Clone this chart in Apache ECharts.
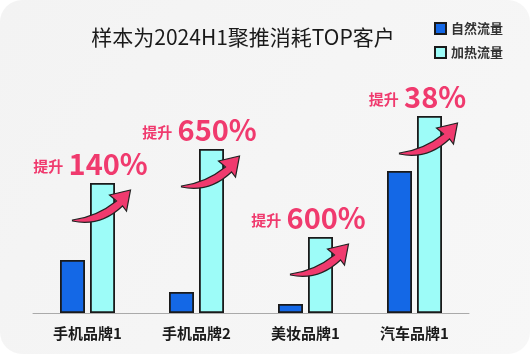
<!DOCTYPE html>
<html>
<head>
<meta charset="utf-8">
<script src="https://cdn.jsdelivr.net/npm/echarts@6/dist/echarts.min.js"></script>
<style>
  html, body { margin: 0; padding: 0; background: #fff; }
  #chart { width: 530px; height: 354px; }
</style>
</head>
<body>
<div id="chart"></div>
<script>
const categories = ['手机品牌1', '手机品牌2', '美妆品牌1', '汽车品牌1'];
const naturalFlow = [53, 21, 9, 142];
const heatedFlow = [130, 164, 76, 197];
const liftLabels = ['140%', '650%', '600%', '38%'];

const BAR_W = 25;
const BAR_GAP = 5;
const PINK = '#f03a6e';

const chart = echarts.init(document.getElementById('chart'), null, { renderer: 'canvas' });

// curved "lift" arrow, tail at 0,0
const ARROW_PATH = 'M0 0 Q24 -3 44 -19 L37 -25 L58 -30 L54 -9 L50 -14 Q28 7 0 1 Z';

function renderLift(params, api) {
  const pt = api.coord([api.value(0), api.value(1)]);
  const x = pt[0] + (BAR_W + BAR_GAP) / 2;
  const y = pt[1];
  const txt = liftLabels[params.dataIndex];
  return {
    type: 'group',
    children: [
      {
        type: 'path',
        x: x - 30,
        y: y + 37,
        shape: { pathData: ARROW_PATH },
        style: { fill: PINK, stroke: '#222', lineWidth: 1.2 }
      },
      {
        type: 'text',
        x: x - 12,
        y: y - 19,
        style: {
          text: '{a|提升} {b|' + txt + '}',
          align: 'center',
          verticalAlign: 'middle',
          rich: {
            a: { fontSize: 15, fontWeight: 'bold', fill: PINK, fontFamily: 'Noto Sans CJK SC', padding: [4, 2, 0, 0] },
            b: { fontSize: 29, fontWeight: 'bold', fill: PINK, fontFamily: 'Noto Sans CJK SC' }
          }
        }
      }
    ]
  };
}

const option = {
  animation: false,
  textStyle: { fontFamily: 'Noto Sans CJK SC' },
  graphic: [{
    type: 'rect',
    z: -10,
    shape: { x: 0, y: 0, width: 530, height: 354, r: 22 },
    style: {
      fill: new echarts.graphic.LinearGradient(0, 0, 1, 1, [
        { offset: 0, color: '#f3f3f3' },
        { offset: 0.5, color: '#f5f5f5' },
        { offset: 1, color: '#f7f7f7' }
      ])
    }
  }],
  title: {
    text: '样本为2024H1聚推消耗TOP客户',
    left: 238,
    top: 22,
    textAlign: 'center',
    textStyle: { fontSize: 21, fontWeight: 'normal', color: '#1a1a1a' }
  },
  legend: {
    orient: 'vertical',
    right: 22,
    top: 17,
    itemWidth: 11,
    itemHeight: 11,
    itemGap: 11,
    icon: 'rect',
    textStyle: { fontSize: 13, fontWeight: 'bold', color: '#333' },
    data: ['自然流量', '加热流量']
  },
  grid: { left: 33, width: 436, top: 113, bottom: 41 },
  xAxis: {
    type: 'category',
    data: categories,
    axisLine: { lineStyle: { color: '#aaa', width: 1 } },
    axisTick: { show: false },
    axisLabel: { fontSize: 15, color: '#1a1a1a', fontWeight: 'bold', margin: 13 }
  },
  yAxis: {
    type: 'value',
    min: 0,
    max: 200,
    show: false,
    splitLine: { show: false }
  },
  series: [
    {
      name: '自然流量',
      type: 'bar',
      barWidth: BAR_W,
      barGap: '20%',
      data: naturalFlow,
      itemStyle: { color: '#1468e6', borderColor: '#1a1a1a', borderWidth: 1.8 }
    },
    {
      name: '加热流量',
      type: 'bar',
      barWidth: BAR_W,
      data: heatedFlow,
      itemStyle: { color: '#9dfcf8', borderColor: '#1a1a1a', borderWidth: 1.8 }
    },
    {
      type: 'custom',
      renderItem: renderLift,
      data: heatedFlow.map((v, i) => [i, v]),
      z: 10,
      silent: true
    }
  ]
};

chart.setOption(option);
</script>
</body>
</html>
